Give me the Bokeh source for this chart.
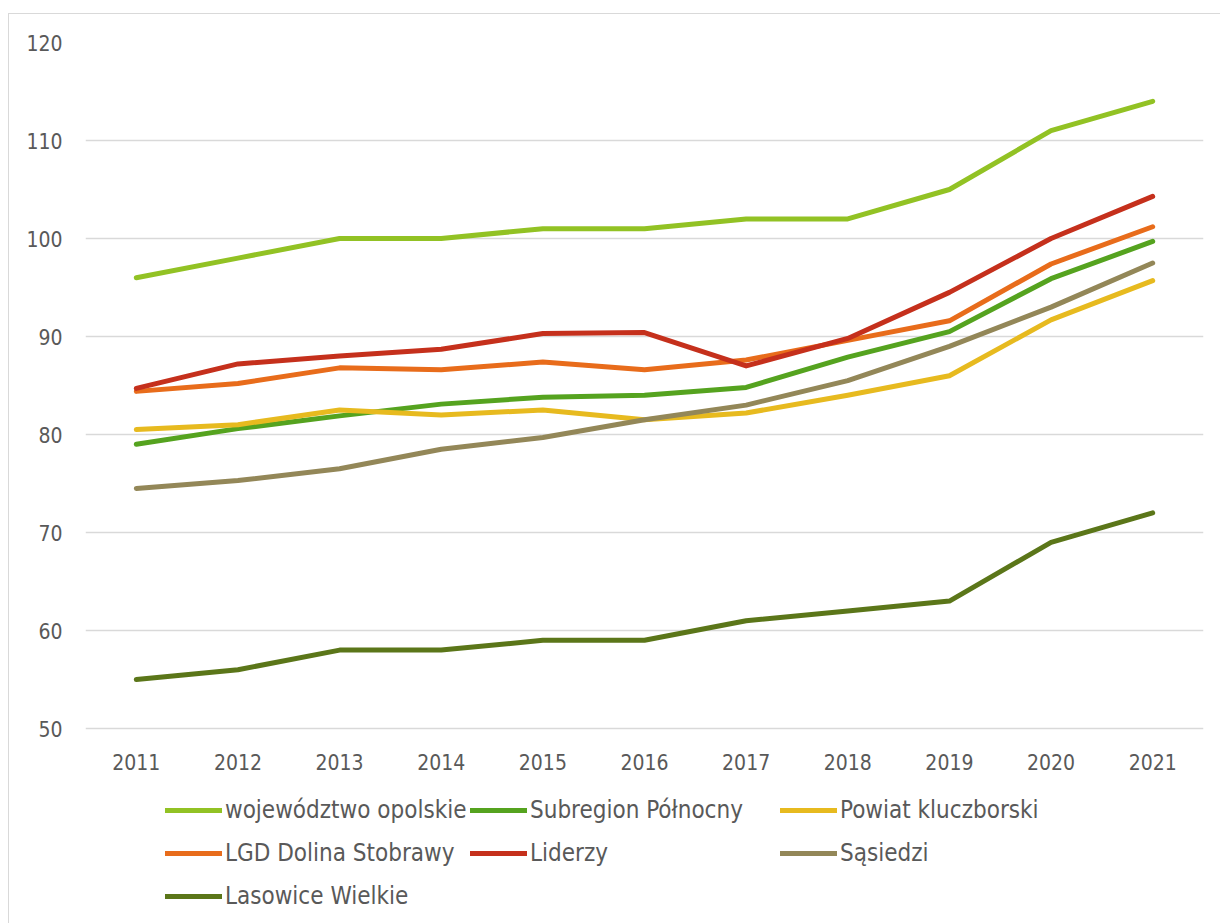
from bokeh.plotting import figure
from bokeh.models import FactorRange, Range1d, Legend, LegendItem, FixedTicker
from bokeh.embed import file_html
from bokeh.resources import INLINE

years = ["2011", "2012", "2013", "2014", "2015", "2016", "2017", "2018", "2019", "2020", "2021"]

wojewodztwo_opolskie = [96, 98, 100, 100, 101, 101, 102, 102, 105, 111, 114]
subregion_polnocny = [79.0, 80.6, 81.9, 83.1, 83.8, 84.0, 84.8, 87.9, 90.5, 95.9, 99.7]
powiat_kluczborski = [80.5, 81.0, 82.5, 82.0, 82.5, 81.5, 82.2, 84.0, 86.0, 91.7, 95.7]
lgd_dolina_stobrawy = [84.4, 85.2, 86.8, 86.6, 87.4, 86.6, 87.6, 89.6, 91.6, 97.4, 101.2]
liderzy = [84.7, 87.2, 88.0, 88.7, 90.3, 90.4, 87.0, 89.8, 94.5, 100.0, 104.3]
sasiedzi = [74.5, 75.3, 76.5, 78.5, 79.7, 81.5, 83.0, 85.5, 89.0, 93.0, 97.5]
lasowice_wielkie = [55, 56, 58, 58, 59, 59, 61, 62, 63, 69, 72]

series_names = ["województwo opolskie", "Subregion Północny", "Powiat kluczborski",
                "LGD Dolina Stobrawy", "Liderzy", "Sąsiedzi", "Lasowice Wielkie"]
series_values = [wojewodztwo_opolskie, subregion_polnocny, powiat_kluczborski,
                 lgd_dolina_stobrawy, liderzy, sasiedzi, lasowice_wielkie]
colors = ["#92C224", "#55A31F", "#E7BA1F", "#E86C1B", "#C5301C", "#938758", "#5B7619"]
y_ticks = [50, 60, 70, 80, 90, 100, 110, 120]

FONT = "DejaVu Sans Condensed"
TXT = "#595959"

W, H = 1212, 910
B_LEFT, B_RIGHT, B_TOP, B_BOTTOM = 76, 18, 28, 4
frame_h = H - B_TOP - B_BOTTOM
px_per_unit = 686 / 70.0
y_max = y_ticks[-1]
y_min_axis = y_ticks[0]
y_start = y_max - frame_h / px_per_unit

p = figure(width=W, height=H, x_range=FactorRange(*years, range_padding=0),
           y_range=Range1d(y_start, y_max), output_backend="svg", toolbar_location=None,
           min_border_left=B_LEFT, min_border_right=B_RIGHT,
           min_border_top=B_TOP, min_border_bottom=B_BOTTOM)
p.styles = {"margin-left": "8px", "margin-top": "13px",
            "border-left": "1px solid #D9D9D9", "border-top": "1px solid #D9D9D9"}
p.outline_line_color = None
p.background_fill_color = "white"
p.border_fill_color = "white"

p.xgrid.grid_line_color = None
p.ygrid.grid_line_color = "#D9D9D9"
p.ygrid.grid_line_width = 1.5

p.yaxis.ticker = FixedTicker(ticks=y_ticks)
p.xaxis.fixed_location = y_min_axis
for ax in (p.xaxis[0], p.yaxis[0]):
    ax.axis_line_color = None
    ax.major_tick_line_color = None
    ax.minor_tick_line_color = None
    ax.major_label_text_font = FONT
    ax.major_label_text_font_size = "21px"
    ax.major_label_text_color = TXT
p.xaxis.major_label_standoff = 19
p.yaxis.major_label_standoff = 17

renderers = []
for name, vals, col in zip(series_names, series_values, colors):
    r = p.line(years, vals, line_color=col, line_width=5, line_cap="round", line_join="round")
    renderers.append(r)

columns = [[0, 3, 6], [1, 4], [2, 5]]
col_x = [80, 385, 695]
row_pitch = 43
item_h = 30
for idxs, cx in zip(columns, col_x):
    items = [LegendItem(label=series_names[i], renderers=[renderers[i]]) for i in idxs]
    n = len(idxs)
    bottom = 9 + (3 - n) * row_pitch
    leg = Legend(items=items, location=(cx, bottom), orientation="vertical",
                 glyph_width=57, glyph_height=item_h, label_height=item_h, label_standoff=3,
                 spacing=row_pitch - item_h, padding=0, margin=0, border_line_color=None,
                 background_fill_alpha=0, label_text_font=FONT,
                 label_text_font_size="24px", label_text_color=TXT)
    p.add_layout(leg, "center")

open("out.html", "w").write(file_html(p, INLINE))
